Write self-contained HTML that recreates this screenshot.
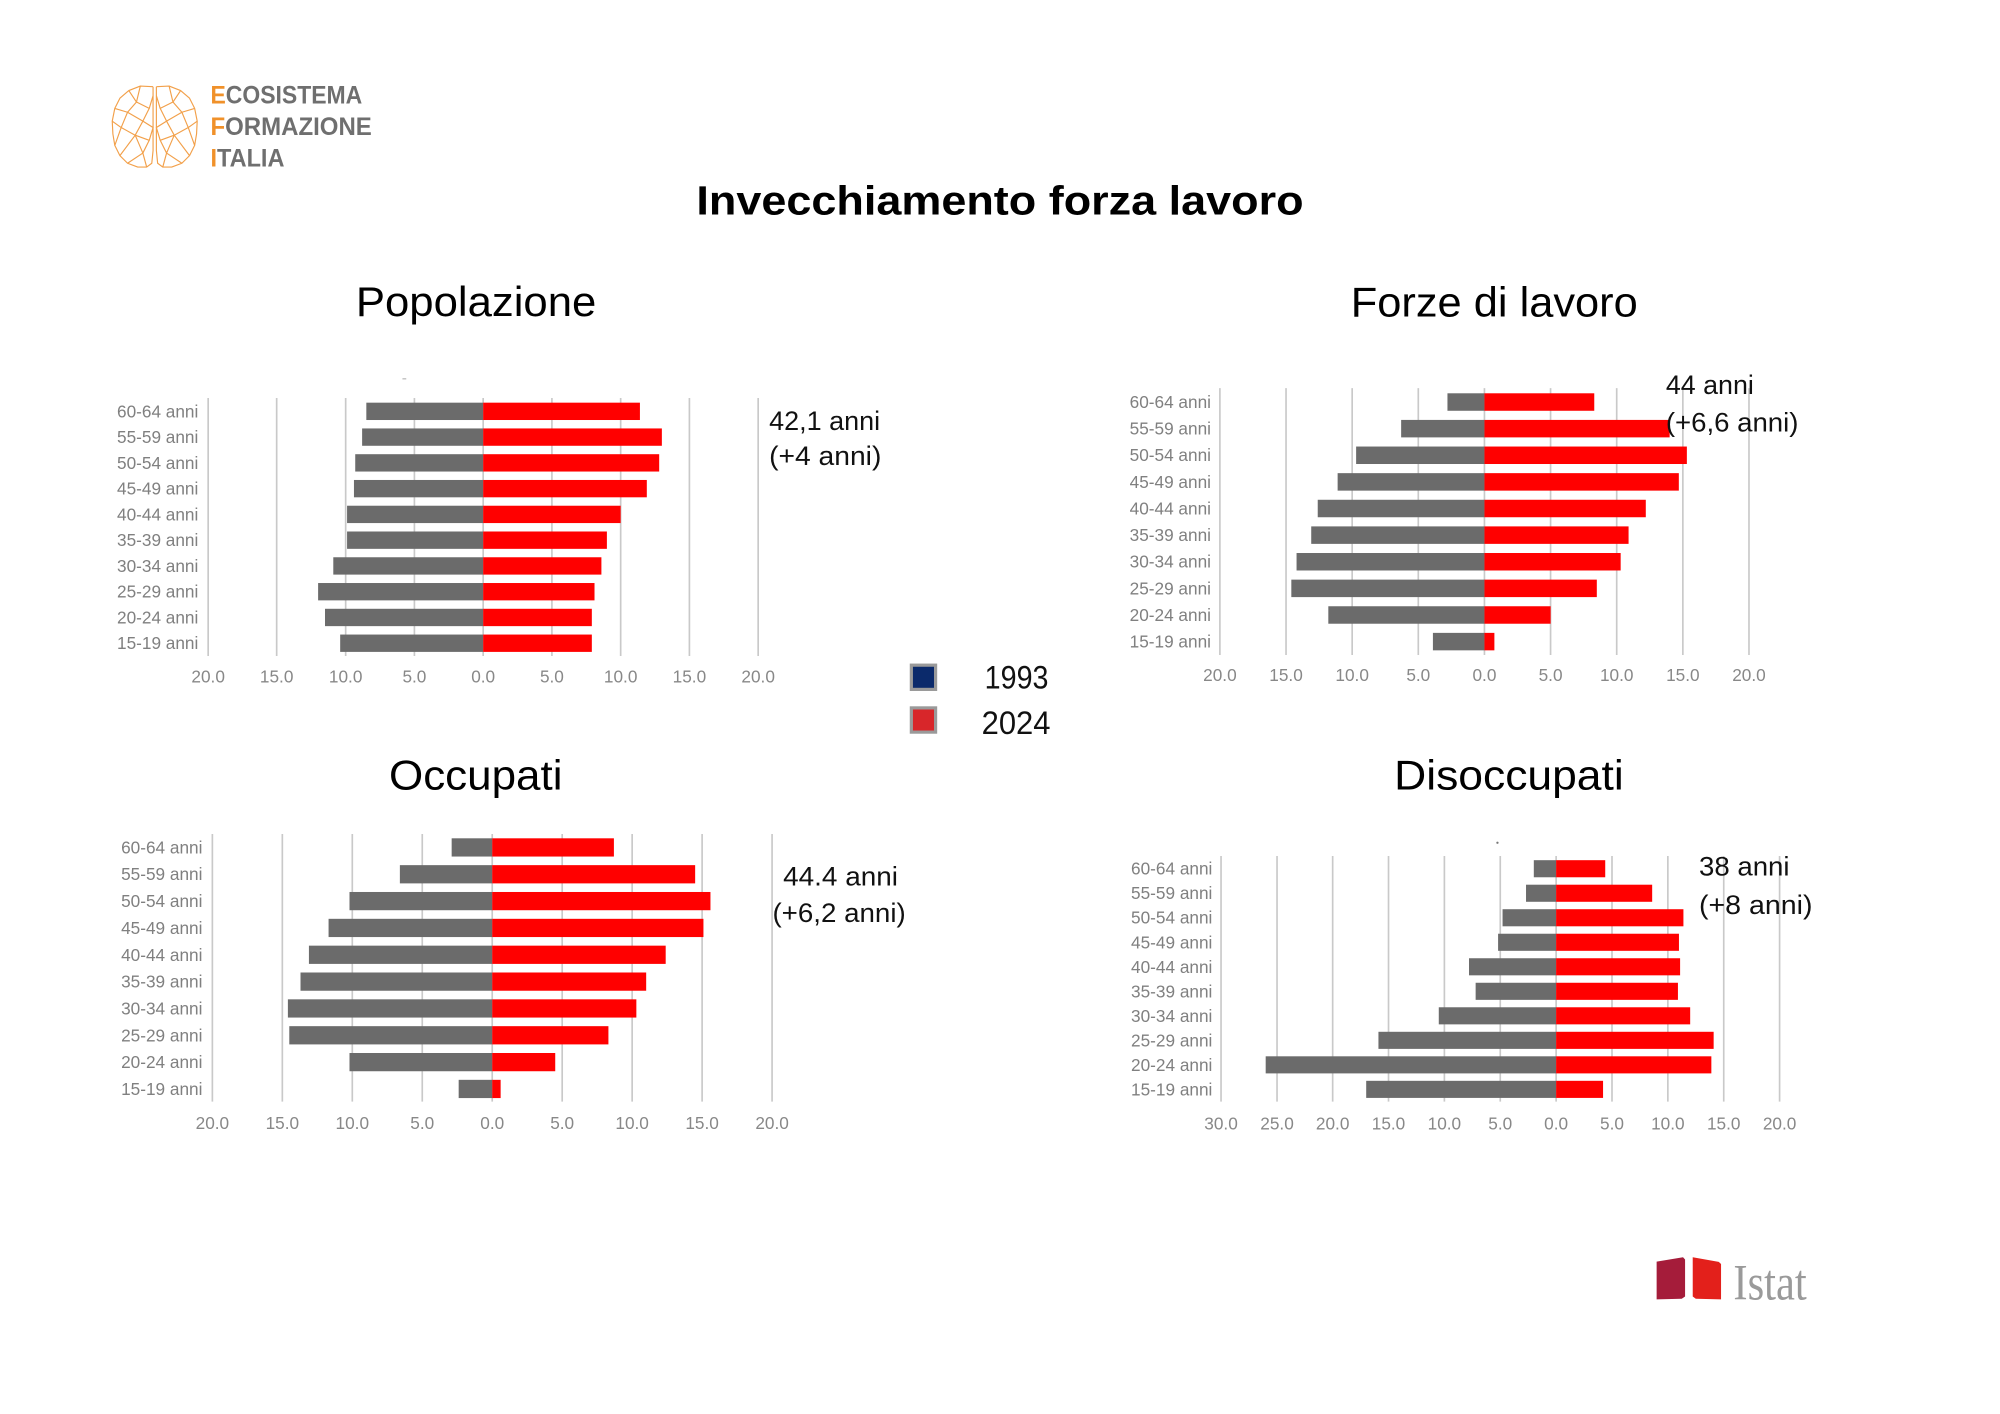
<!DOCTYPE html>
<html>
<head>
<meta charset="utf-8">
<style>
html,body{margin:0;padding:0;background:#ffffff;width:2000px;height:1414px;overflow:hidden}
svg{display:block}
.lab{font-family:"Liberation Sans",sans-serif;font-size:13.5px;fill:#808080}
.tick{font-family:"Liberation Sans",sans-serif;font-size:13.5px;fill:#888888;text-anchor:middle}
.ttl{font-family:"Liberation Sans",sans-serif;font-size:33px;fill:#000}
.ann{font-family:"Liberation Sans",sans-serif;font-size:21px;fill:#111}
.g{fill:#6b6b6b}
.r{fill:#ff0000}
.grid{stroke:#c9c9c9;stroke-width:1.3;fill:none}
</style>
</head>
<body>
<svg width="2000" height="1414" viewBox="0 0 1568 1108.6" preserveAspectRatio="none" xmlns="http://www.w3.org/2000/svg">
<rect x="0" y="0" width="1568" height="1108.6" fill="#ffffff"/>

<!-- Logo brain -->
<g stroke="#f2a04a" stroke-width="0.9" fill="none" stroke-linejoin="round">
  <g>
    <polyline points="120,68 110,67.5 101,71 94,77 90,85 88,95 88.5,105 90,114 94,122 100,128 108,131 115,131 119,128 120,118 120,68"/>
    <polyline points="110,67.5 107,80 100,88 90,85"/>
    <polyline points="101,71 107,80 117,85 112,95 100,88 95,100 88,95"/>
    <polyline points="112,95 106,106 95,100 90,114"/>
    <polyline points="106,106 117,110 112,120 106,106 94,122"/>
    <polyline points="112,120 100,128"/>
    <polyline points="112,120 115,131"/>
    <polyline points="117,85 120,75"/>
    <polyline points="117,110 120,100 112,95"/>
  </g>
  <g transform="translate(242.6,0) scale(-1,1)">
    <polyline points="120,68 110,67.5 101,71 94,77 90,85 88,95 88.5,105 90,114 94,122 100,128 108,131 115,131 119,128 120,118 120,68"/>
    <polyline points="110,67.5 107,80 100,88 90,85"/>
    <polyline points="101,71 107,80 117,85 112,95 100,88 95,100 88,95"/>
    <polyline points="112,95 106,106 95,100 90,114"/>
    <polyline points="106,106 117,110 112,120 106,106 94,122"/>
    <polyline points="112,120 100,128"/>
    <polyline points="112,120 115,131"/>
    <polyline points="117,85 120,75"/>
    <polyline points="117,110 120,100 112,95"/>
  </g>
</g>
<g font-family="Liberation Sans, sans-serif" font-weight="bold" font-size="19.5" fill="#6f6f6f">
  <text x="165" y="81" textLength="119" lengthAdjust="spacingAndGlyphs"><tspan fill="#f0912a">E</tspan>COSISTEMA</text>
  <text x="165" y="106" textLength="126.5" lengthAdjust="spacingAndGlyphs"><tspan fill="#f0912a">F</tspan>ORMAZIONE</text>
  <text x="165" y="130.5" textLength="58" lengthAdjust="spacingAndGlyphs"><tspan fill="#f0912a">I</tspan>TALIA</text>
</g>

<!-- Main title -->
<text x="546" y="168" font-family="Liberation Sans, sans-serif" font-weight="bold" font-size="32" fill="#000" textLength="476" lengthAdjust="spacingAndGlyphs">Invecchiamento forza lavoro</text>

<!-- Subtitles -->
<text class="ttl" x="279" y="247.8" textLength="188.5" lengthAdjust="spacingAndGlyphs">Popolazione</text>
<text class="ttl" x="1059" y="248.3" textLength="225" lengthAdjust="spacingAndGlyphs">Forze di lavoro</text>
<text class="ttl" x="305" y="618.8" textLength="136" lengthAdjust="spacingAndGlyphs">Occupati</text>
<text class="ttl" x="1093" y="618.8" textLength="180" lengthAdjust="spacingAndGlyphs">Disoccupati</text>

<!-- ============ Chart 1: Popolazione ============ -->
<path class="grid" d="M163.2,312V514.3M216.9,312V514.3M271,312V514.3M324.9,312V514.3M378.8,312V514.3M432.7,312V514.3M486.6,312V514.3M540.5,312V514.3M594.4,312V514.3"/>
<g>
<rect class="g" x="287.2" y="315.7" width="91.6" height="13.6"/>
<rect class="g" x="283.9" y="335.9" width="94.9" height="13.6"/>
<rect class="g" x="278.5" y="356.1" width="100.3" height="13.6"/>
<rect class="g" x="277.5" y="376.3" width="101.3" height="13.6"/>
<rect class="g" x="272.1" y="396.5" width="106.7" height="13.6"/>
<rect class="g" x="272.1" y="416.7" width="106.7" height="13.6"/>
<rect class="g" x="261.3" y="436.9" width="117.5" height="13.6"/>
<rect class="g" x="249.4" y="457.1" width="129.4" height="13.6"/>
<rect class="g" x="254.8" y="477.3" width="124.0" height="13.6"/>
<rect class="g" x="266.7" y="497.5" width="112.1" height="13.6"/>
<rect class="r" x="378.8" y="315.7" width="122.9" height="13.6"/>
<rect class="r" x="378.8" y="335.9" width="140.1" height="13.6"/>
<rect class="r" x="378.8" y="356.1" width="138.0" height="13.6"/>
<rect class="r" x="378.8" y="376.3" width="128.3" height="13.6"/>
<rect class="r" x="378.8" y="396.5" width="107.8" height="13.6"/>
<rect class="r" x="378.8" y="416.7" width="97.0" height="13.6"/>
<rect class="r" x="378.8" y="436.9" width="92.7" height="13.6"/>
<rect class="r" x="378.8" y="457.1" width="87.3" height="13.6"/>
<rect class="r" x="378.8" y="477.3" width="85.2" height="13.6"/>
<rect class="r" x="378.8" y="497.5" width="85.2" height="13.6"/>
</g>
<g class="lab" text-anchor="end">
<text x="155.5" y="327.2">60-64 anni</text>
<text x="155.5" y="347.4">55-59 anni</text>
<text x="155.5" y="367.6">50-54 anni</text>
<text x="155.5" y="387.8">45-49 anni</text>
<text x="155.5" y="408.0">40-44 anni</text>
<text x="155.5" y="428.2">35-39 anni</text>
<text x="155.5" y="448.4">30-34 anni</text>
<text x="155.5" y="468.6">25-29 anni</text>
<text x="155.5" y="488.8">20-24 anni</text>
<text x="155.5" y="509.0">15-19 anni</text>
</g>
<g class="tick">
<text x="163.2" y="535.2">20.0</text>
<text x="216.9" y="535.2">15.0</text>
<text x="271" y="535.2">10.0</text>
<text x="324.9" y="535.2">5.0</text>
<text x="378.8" y="535.2">0.0</text>
<text x="432.7" y="535.2">5.0</text>
<text x="486.6" y="535.2">10.0</text>
<text x="540.5" y="535.2">15.0</text>
<text x="594.4" y="535.2">20.0</text>
</g>
<text class="ann" x="603" y="337" textLength="87" lengthAdjust="spacingAndGlyphs">42,1 anni</text>
<text class="ann" x="603" y="364.6" textLength="88" lengthAdjust="spacingAndGlyphs">(+4 anni)</text>

<!-- ============ Chart 2: Forze di lavoro ============ -->
<path class="grid" d="M956.4,304.3V513.5M1008.25,304.3V513.5M1060.1,304.3V513.5M1111.95,304.3V513.5M1163.8,304.3V513.5M1215.65,304.3V513.5M1267.5,304.3V513.5M1319.35,304.3V513.5M1371.2,304.3V513.5"/>
<g>
<rect class="g" x="1134.8" y="308.35" width="29.0" height="13.7"/>
<rect class="g" x="1098.5" y="329.22" width="65.3" height="13.7"/>
<rect class="g" x="1063.2" y="350.09" width="100.6" height="13.7"/>
<rect class="g" x="1048.7" y="370.96" width="115.1" height="13.7"/>
<rect class="g" x="1033.1" y="391.83" width="130.7" height="13.7"/>
<rect class="g" x="1028.0" y="412.70" width="135.8" height="13.7"/>
<rect class="g" x="1016.5" y="433.57" width="147.3" height="13.7"/>
<rect class="g" x="1012.4" y="454.44" width="151.4" height="13.7"/>
<rect class="g" x="1041.4" y="475.31" width="122.4" height="13.7"/>
<rect class="g" x="1123.4" y="496.18" width="40.4" height="13.7"/>
<rect class="r" x="1163.8" y="308.35" width="86.1" height="13.7"/>
<rect class="r" x="1163.8" y="329.22" width="145.2" height="13.7"/>
<rect class="r" x="1163.8" y="350.09" width="158.7" height="13.7"/>
<rect class="r" x="1163.8" y="370.96" width="152.4" height="13.7"/>
<rect class="r" x="1163.8" y="391.83" width="126.5" height="13.7"/>
<rect class="r" x="1163.8" y="412.70" width="113.0" height="13.7"/>
<rect class="r" x="1163.8" y="433.57" width="106.8" height="13.7"/>
<rect class="r" x="1163.8" y="454.44" width="88.1" height="13.7"/>
<rect class="r" x="1163.8" y="475.31" width="51.9" height="13.7"/>
<rect class="r" x="1163.8" y="496.18" width="7.8" height="13.7"/>
</g>
<g class="lab" text-anchor="end">
<text x="949.4" y="319.9">60-64 anni</text>
<text x="949.4" y="340.8">55-59 anni</text>
<text x="949.4" y="361.6">50-54 anni</text>
<text x="949.4" y="382.5">45-49 anni</text>
<text x="949.4" y="403.4">40-44 anni</text>
<text x="949.4" y="424.3">35-39 anni</text>
<text x="949.4" y="445.1">30-34 anni</text>
<text x="949.4" y="466.0">25-29 anni</text>
<text x="949.4" y="486.9">20-24 anni</text>
<text x="949.4" y="507.7">15-19 anni</text>
</g>
<g class="tick">
<text x="956.4" y="533.9">20.0</text>
<text x="1008.25" y="533.9">15.0</text>
<text x="1060.1" y="533.9">10.0</text>
<text x="1111.95" y="533.9">5.0</text>
<text x="1163.8" y="533.9">0.0</text>
<text x="1215.65" y="533.9">5.0</text>
<text x="1267.5" y="533.9">10.0</text>
<text x="1319.35" y="533.9">15.0</text>
<text x="1371.2" y="533.9">20.0</text>
</g>
<text class="ann" x="1306" y="308.8" textLength="69" lengthAdjust="spacingAndGlyphs">44 anni</text>
<text class="ann" x="1306" y="338.4" textLength="104" lengthAdjust="spacingAndGlyphs">(+6,6 anni)</text>

<!-- Legend -->
<rect x="714.5" y="521.5" width="19" height="19" fill="#0b2a6b" stroke="#9a9a9a" stroke-width="2.5"/>
<rect x="714.5" y="555" width="19" height="19" fill="#d8262a" stroke="#9a9a9a" stroke-width="2.5"/>
<text x="772" y="539.7" font-family="Liberation Sans, sans-serif" font-size="25.5" fill="#111" textLength="50" lengthAdjust="spacingAndGlyphs">1993</text>
<text x="769.6" y="575.5" font-family="Liberation Sans, sans-serif" font-size="25.5" fill="#111" textLength="54" lengthAdjust="spacingAndGlyphs">2024</text>

<!-- ============ Chart 3: Occupati ============ -->
<path class="grid" d="M166.5,653.9V863.7M221.35,653.9V863.7M276.2,653.9V863.7M331.05,653.9V863.7M385.9,653.9V863.7M440.75,653.9V863.7M495.6,653.9V863.7M550.45,653.9V863.7M605.3,653.9V863.7"/>
<g>
<rect class="g" x="354.1" y="657.25" width="31.8" height="14.3"/>
<rect class="g" x="313.5" y="678.29" width="72.4" height="14.3"/>
<rect class="g" x="274.0" y="699.33" width="111.9" height="14.3"/>
<rect class="g" x="257.6" y="720.37" width="128.3" height="14.3"/>
<rect class="g" x="242.2" y="741.41" width="143.7" height="14.3"/>
<rect class="g" x="235.6" y="762.45" width="150.3" height="14.3"/>
<rect class="g" x="225.7" y="783.49" width="160.2" height="14.3"/>
<rect class="g" x="226.8" y="804.53" width="159.1" height="14.3"/>
<rect class="g" x="274.0" y="825.57" width="111.9" height="14.3"/>
<rect class="g" x="359.6" y="846.61" width="26.3" height="14.3"/>
<rect class="r" x="385.9" y="657.25" width="95.4" height="14.3"/>
<rect class="r" x="385.9" y="678.29" width="159.1" height="14.3"/>
<rect class="r" x="385.9" y="699.33" width="171.1" height="14.3"/>
<rect class="r" x="385.9" y="720.37" width="165.6" height="14.3"/>
<rect class="r" x="385.9" y="741.41" width="136.0" height="14.3"/>
<rect class="r" x="385.9" y="762.45" width="120.7" height="14.3"/>
<rect class="r" x="385.9" y="783.49" width="113.0" height="14.3"/>
<rect class="r" x="385.9" y="804.53" width="91.1" height="14.3"/>
<rect class="r" x="385.9" y="825.57" width="49.4" height="14.3"/>
<rect class="r" x="385.9" y="846.61" width="6.6" height="14.3"/>
</g>
<g class="lab" text-anchor="end">
<text x="158.7" y="669.1">60-64 anni</text>
<text x="158.7" y="690.1">55-59 anni</text>
<text x="158.7" y="711.2">50-54 anni</text>
<text x="158.7" y="732.2">45-49 anni</text>
<text x="158.7" y="753.3">40-44 anni</text>
<text x="158.7" y="774.3">35-39 anni</text>
<text x="158.7" y="795.3">30-34 anni</text>
<text x="158.7" y="816.4">25-29 anni</text>
<text x="158.7" y="837.4">20-24 anni</text>
<text x="158.7" y="858.5">15-19 anni</text>
</g>
<g class="tick">
<text x="166.5" y="885.3">20.0</text>
<text x="221.35" y="885.3">15.0</text>
<text x="276.2" y="885.3">10.0</text>
<text x="331.05" y="885.3">5.0</text>
<text x="385.9" y="885.3">0.0</text>
<text x="440.75" y="885.3">5.0</text>
<text x="495.6" y="885.3">10.0</text>
<text x="550.45" y="885.3">15.0</text>
<text x="605.3" y="885.3">20.0</text>
</g>
<text class="ann" x="614" y="694.3" textLength="90" lengthAdjust="spacingAndGlyphs">44.4 anni</text>
<text class="ann" x="605.6" y="723" textLength="104.5" lengthAdjust="spacingAndGlyphs">(+6,2 anni)</text>

<!-- ============ Chart 4: Disoccupati ============ -->
<path class="grid" d="M957.3,671.1V863.7M1001.2,671.1V863.7M1044.8,671.1V863.7M1088.6,671.1V863.7M1132.4,671.1V863.7M1176.2,671.1V863.7M1220,671.1V863.7M1263.8,671.1V863.7M1307.6,671.1V863.7M1351.4,671.1V863.7M1395.2,671.1V863.7"/>
<g>
<rect class="g" x="1202.5" y="674.4" width="17.5" height="13.4"/>
<rect class="g" x="1196.4" y="693.62" width="23.6" height="13.4"/>
<rect class="g" x="1178.0" y="712.84" width="42.0" height="13.4"/>
<rect class="g" x="1174.5" y="732.06" width="45.5" height="13.4"/>
<rect class="g" x="1151.7" y="751.28" width="68.3" height="13.4"/>
<rect class="g" x="1156.9" y="770.5" width="63.1" height="13.4"/>
<rect class="g" x="1128.0" y="789.72" width="92.0" height="13.4"/>
<rect class="g" x="1080.7" y="808.94" width="139.3" height="13.4"/>
<rect class="g" x="992.3" y="828.16" width="227.7" height="13.4"/>
<rect class="g" x="1071.1" y="847.38" width="148.9" height="13.4"/>
<rect class="r" x="1220" y="674.4" width="38.5" height="13.4"/>
<rect class="r" x="1220" y="693.62" width="75.3" height="13.4"/>
<rect class="r" x="1220" y="712.84" width="99.8" height="13.4"/>
<rect class="r" x="1220" y="732.06" width="96.3" height="13.4"/>
<rect class="r" x="1220" y="751.28" width="97.2" height="13.4"/>
<rect class="r" x="1220" y="770.5" width="95.5" height="13.4"/>
<rect class="r" x="1220" y="789.72" width="105.1" height="13.4"/>
<rect class="r" x="1220" y="808.94" width="123.5" height="13.4"/>
<rect class="r" x="1220" y="828.16" width="121.7" height="13.4"/>
<rect class="r" x="1220" y="847.38" width="36.8" height="13.4"/>
</g>
<g class="lab" text-anchor="end">
<text x="950.5" y="685.8">60-64 anni</text>
<text x="950.5" y="705.0">55-59 anni</text>
<text x="950.5" y="724.2">50-54 anni</text>
<text x="950.5" y="743.5">45-49 anni</text>
<text x="950.5" y="762.7">40-44 anni</text>
<text x="950.5" y="781.9">35-39 anni</text>
<text x="950.5" y="801.1">30-34 anni</text>
<text x="950.5" y="820.3">25-29 anni</text>
<text x="950.5" y="839.6">20-24 anni</text>
<text x="950.5" y="858.8">15-19 anni</text>
</g>
<g class="tick">
<text x="957.3" y="885.4">30.0</text>
<text x="1001.2" y="885.4">25.0</text>
<text x="1044.8" y="885.4">20.0</text>
<text x="1088.6" y="885.4">15.0</text>
<text x="1132.4" y="885.4">10.0</text>
<text x="1176.2" y="885.4">5.0</text>
<text x="1220" y="885.4">0.0</text>
<text x="1263.8" y="885.4">5.0</text>
<text x="1307.6" y="885.4">10.0</text>
<text x="1351.4" y="885.4">15.0</text>
<text x="1395.2" y="885.4">20.0</text>
</g>
<text class="ann" x="1332" y="686.5" textLength="71" lengthAdjust="spacingAndGlyphs">38 anni</text>
<text class="ann" x="1332" y="716.5" textLength="89" lengthAdjust="spacingAndGlyphs">(+8 anni)</text>
<circle cx="1174" cy="660.7" r="0.9" fill="#777"/>
<rect x="315.5" y="296.5" width="3" height="1" fill="#bbb"/>

<!-- Istat logo -->
<polygon points="1298.8,989.1 1319.5,985.7 1321.1,987.5 1321.1,1016.5 1318.5,1018.2 1298.8,1018.7" fill="#a51c3a"/>
<polygon points="1327.1,985.7 1347.5,989.3 1349.3,991 1349.3,1018.7 1329.5,1018.2 1327.1,1016.5" fill="#e3201b"/>
<text x="1359" y="1018.7" font-family="Liberation Serif, serif" font-size="40" fill="#9a9a9a" textLength="57.5" lengthAdjust="spacingAndGlyphs">Istat</text>
</svg>
</body>
</html>
